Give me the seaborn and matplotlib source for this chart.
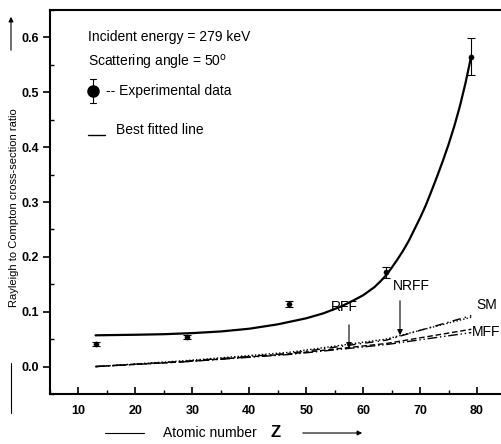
import numpy as np
import pandas as pd
import matplotlib
matplotlib.use('Agg')
import matplotlib.pyplot as plt
from matplotlib.ticker import MultipleLocator
import seaborn as sns

# experimental points
z_exp = [13, 29, 47, 64, 79]
ratio_exp = [0.041, 0.054, 0.114, 0.172, 0.565]
ratio_err = [0.003, 0.003, 0.005, 0.010, 0.034]

# best fitted line
z_fit = [13, 20, 25, 30, 35, 40, 45, 50, 53, 56, 58, 60, 62, 63, 64, 65, 66, 67, 68, 69,
         70, 71, 72, 73, 74, 75, 76, 77, 78, 79]
ratio_fit = [0.057, 0.058, 0.059, 0.061, 0.064, 0.069, 0.077, 0.088, 0.097, 0.109, 0.119, 0.130,
             0.145, 0.155, 0.166, 0.180, 0.195, 0.211, 0.229, 0.250,
             0.271, 0.294, 0.320, 0.347, 0.375, 0.405, 0.438, 0.475, 0.518, 0.567]

# theoretical values
z_th = [13, 29, 47, 64, 79]
nrff = [0.0, 0.011, 0.026, 0.050, 0.090]
sm = [0.0, 0.010, 0.024, 0.048, 0.093]
rff = [0.0, 0.009, 0.023, 0.042, 0.068]
mff = [0.0, 0.009, 0.022, 0.040, 0.062]

sns.set_style('ticks')
plt.rcParams['font.family'] = ['Liberation Sans', 'DejaVu Sans']
plt.rcParams['text.color'] = 'black'
plt.rcParams['xtick.color'] = 'black'
plt.rcParams['ytick.color'] = 'black'
plt.rcParams['axes.edgecolor'] = 'black'

W, H = 502, 444
fig = plt.figure(figsize=(W / 100, H / 100), dpi=100)
ax = fig.add_axes([50 / W, (H - 394) / H, 455.5 / W, 384 / H])


def fp(x, y):
    # figure pixel (from top-left) -> figure fraction
    return (x / W, 1 - y / H)


df_th = pd.DataFrame({'Z': z_th, 'NRFF': nrff, 'SM': sm, 'RFF': rff, 'MFF': mff})
sns.lineplot(data=df_th, x='Z', y='NRFF', ax=ax, color='black', lw=1.0, linestyle=(0, (1, 1.5)))
sns.lineplot(data=df_th, x='Z', y='SM', ax=ax, color='black', lw=1.0, linestyle=(0, (6, 3, 1, 3)))
sns.lineplot(data=df_th, x='Z', y='RFF', ax=ax, color='black', lw=1.0, linestyle=(0, (4, 2)))
sns.lineplot(data=df_th, x='Z', y='MFF', ax=ax, color='black', lw=1.0, linestyle=(0, (7, 2, 1, 2, 1, 2)))

sns.lineplot(x=z_fit, y=ratio_fit, ax=ax, color='black', lw=1.6)
ax.errorbar(z_exp, ratio_exp, yerr=ratio_err, fmt='none', ecolor='black', elinewidth=0.8, capsize=3, capthick=0.8)
sns.scatterplot(x=z_exp, y=ratio_exp, ax=ax, color='black', s=14, edgecolor='black', zorder=5)

ax.set_xlim(5, 85)
ax.set_ylim(-0.05, 0.65)
ax.xaxis.set_major_locator(MultipleLocator(10))
ax.xaxis.set_minor_locator(MultipleLocator(5))
ax.set_yticks([0.0, 0.1, 0.2, 0.3, 0.4, 0.5, 0.6])
ax.yaxis.set_minor_locator(MultipleLocator(0.05))
ax.set_xticklabels([f'{t:g}' for t in ax.get_xticks()])
ax.set_yticklabels([f'{t:.1f}' for t in [0.0, 0.1, 0.2, 0.3, 0.4, 0.5, 0.6]])
ax.tick_params(axis='x', which='major', direction='in', length=5, width=1.2, labelsize=9, pad=8)
ax.tick_params(axis='x', which='minor', direction='in', length=3, width=1.0)
ax.tick_params(axis='y', which='major', direction='out', length=5, width=1.2, labelsize=9, pad=3)
ax.tick_params(axis='y', which='minor', direction='in', length=3, width=1.0)
for lab in ax.get_xticklabels() + ax.get_yticklabels():
    lab.set_fontweight('bold')
for s in ['left', 'bottom', 'top']:
    ax.spines[s].set_linewidth(1.5)
    ax.spines[s].set_color('black')
ax.spines['right'].set_visible(False)
ax.set_xlabel('')
ax.set_ylabel('')

# in-plot text
ax.text(*fp(88, 37), 'Incident energy = 279 keV', transform=fig.transFigure, fontsize=10, va='center')
ax.text(*fp(88, 62), 'Scattering angle = 50$^{\\mathrm{o}}$', transform=fig.transFigure, fontsize=10, va='center')
fig.lines.append(plt.Line2D([93 / W] * 2, [1 - 79 / H, 1 - 103 / H], color='black', lw=0.8, transform=fig.transFigure))
fig.lines.append(plt.Line2D([90 / W, 96 / W], [1 - 79 / H] * 2, color='black', lw=0.8, transform=fig.transFigure))
fig.lines.append(plt.Line2D([90 / W, 96 / W], [1 - 103 / H] * 2, color='black', lw=0.8, transform=fig.transFigure))
fig.lines.append(plt.Line2D([93 / W], [1 - 91 / H], marker='o', ms=8, color='black', transform=fig.transFigure))
ax.text(*fp(106, 91), '-- Experimental data', transform=fig.transFigure, fontsize=10, va='center')
fig.lines.append(plt.Line2D([88 / W, 105 / W], [1 - 135 / H] * 2, color='black', lw=1.0, transform=fig.transFigure))
ax.text(*fp(116, 130), 'Best fitted line', transform=fig.transFigure, fontsize=10, va='center')

# curve labels
ax.text(*fp(331, 307), 'RFF', transform=fig.transFigure, fontsize=10, va='center')
ax.annotate('', xy=fp(349, 351), xytext=fp(349, 322), xycoords='figure fraction',
            arrowprops=dict(arrowstyle='-|>', color='black', lw=0.8, mutation_scale=8))
ax.text(*fp(393, 286), 'NRFF', transform=fig.transFigure, fontsize=10, va='center')
ax.annotate('', xy=fp(400, 338), xytext=fp(400, 298), xycoords='figure fraction',
            arrowprops=dict(arrowstyle='-|>', color='black', lw=0.8, mutation_scale=8))
ax.text(*fp(476, 305), 'SM', transform=fig.transFigure, fontsize=10, va='center')
ax.text(*fp(472, 332), 'MFF', transform=fig.transFigure, fontsize=10, va='center')

# y label with arrow
fig.text(*fp(14, 208), 'Rayleigh to Compton cross-section ratio', rotation=90, fontsize=8,
         ha='center', va='center')
ax.annotate('', xy=fp(11, 14), xytext=fp(11, 53), xycoords='figure fraction',
            arrowprops=dict(arrowstyle='-|>', color='black', lw=0.8, mutation_scale=7))
fig.lines.append(plt.Line2D([11 / W] * 2, [1 - 363 / H, 1 - 413 / H], color='black', lw=0.8, transform=fig.transFigure))

# x label with arrow
fig.lines.append(plt.Line2D([105 / W, 144 / W], [1 - 433 / H] * 2, color='black', lw=0.8, transform=fig.transFigure))
fig.text(*fp(163, 433), 'Atomic number', fontsize=10, va='center')
fig.text(*fp(271, 432), 'Z', fontsize=12, fontweight='bold', va='center')
ax.annotate('', xy=fp(365, 433), xytext=fp(300, 433), xycoords='figure fraction',
            arrowprops=dict(arrowstyle='-|>', color='black', lw=0.8, mutation_scale=7))

fig.savefig('out.png', dpi=100)
